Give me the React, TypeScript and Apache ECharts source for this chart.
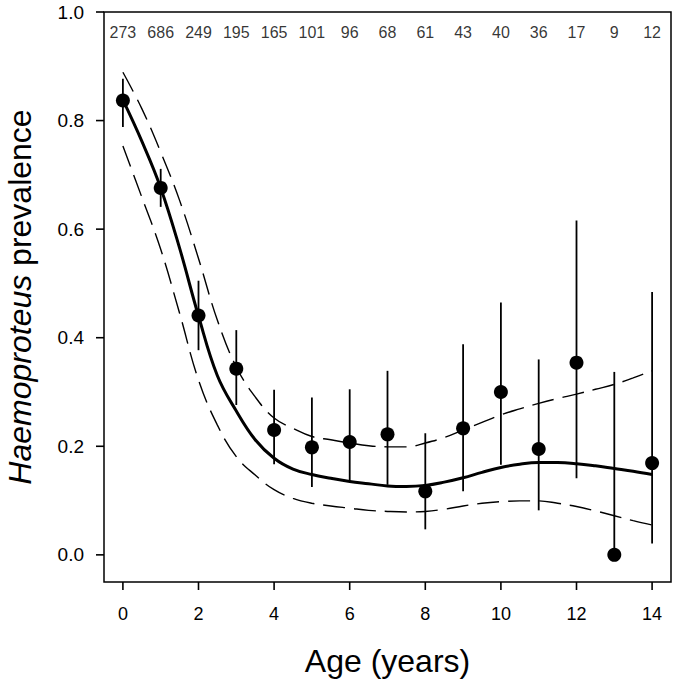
import React, { useEffect, useRef } from "react";
import * as echarts from "echarts";

const ages = [0, 1, 2, 3, 4, 5, 6, 7, 8, 9, 10, 11, 12, 13, 14];
const sampleSizes = ["273", "686", "249", "195", "165", "101", "96", "68", "61", "43", "40", "36", "17", "9", "12"];
const prevalence = [0.837, 0.676, 0.441, 0.343, 0.23, 0.198, 0.208, 0.222, 0.117, 0.233, 0.3, 0.195, 0.354, 0.0, 0.169];
const ciLow = [0.788, 0.641, 0.377, 0.276, 0.167, 0.125, 0.135, 0.129, 0.047, 0.117, 0.166, 0.082, 0.141, 0.0, 0.021];
const ciHigh = [0.877, 0.711, 0.505, 0.414, 0.304, 0.29, 0.305, 0.339, 0.224, 0.388, 0.465, 0.36, 0.616, 0.337, 0.484];

const fitAges = [0, 0.5, 1, 1.5, 2, 2.5, 3, 3.5, 4, 4.5, 5, 5.5, 6, 6.5, 7, 7.5, 8, 8.5, 9, 9.5, 10, 10.5, 11, 11.5, 12, 12.5, 13, 13.5, 14];
const fitMean = [0.838, 0.762, 0.676, 0.565, 0.44, 0.33, 0.265, 0.212, 0.178, 0.158, 0.148, 0.141, 0.135, 0.131, 0.127, 0.126, 0.128, 0.134, 0.142, 0.152, 0.161, 0.167, 0.17, 0.17, 0.168, 0.164, 0.159, 0.154, 0.148];
const fitUpper = [0.889, 0.822, 0.742, 0.653, 0.546, 0.432, 0.346, 0.291, 0.252, 0.233, 0.218, 0.212, 0.206, 0.201, 0.199, 0.199, 0.206, 0.216, 0.23, 0.244, 0.258, 0.269, 0.279, 0.288, 0.296, 0.305, 0.314, 0.326, 0.339];
const fitLower = [0.753, 0.659, 0.563, 0.445, 0.322, 0.239, 0.181, 0.147, 0.12, 0.104, 0.095, 0.09, 0.086, 0.082, 0.08, 0.079, 0.08, 0.084, 0.09, 0.095, 0.098, 0.0995, 0.0994, 0.095, 0.089, 0.081, 0.072, 0.063, 0.055];

const xTicks = [0, 2, 4, 6, 8, 10, 12, 14];
const yTicks = [0, 0.2, 0.4, 0.6, 0.8, 1.0];
const countRowY = 0.963;

const X_MIN = -0.5;
const X_MAX = 14.5;
const Y_MIN = -0.05;
const Y_MAX = 1.0;
const TICK_LEN = 8;
const TICK_W = 1.6;

const FONT = "Liberation Sans, Arial, sans-serif";

export default function App() {
  const ref = useRef<HTMLDivElement>(null);

  useEffect(() => {
    if (!ref.current) return;
    const chart = echarts.init(ref.current, undefined, { renderer: "svg" });

    const pair = (xs: number[], ys: number[]) => xs.map((x, i) => [x, ys[i]]);

    const option: any = {
      animation: false,
      backgroundColor: "#fff",
      grid: {
        left: 104,
        right: 4,
        top: 12,
        bottom: 104,
        show: true,
        borderColor: "#000",
        borderWidth: 1.5,
        backgroundColor: "transparent",
        containLabel: false,
        outerBoundsMode: "none",
      },
      xAxis: {
        type: "value",
        min: X_MIN,
        max: X_MAX,
        axisLine: { show: false, onZero: false },
        splitLine: { show: false },
        axisTick: { show: false },
        axisLabel: {
          customValues: xTicks,
          margin: 23,
          fontSize: 18,
          color: "#000",
          fontFamily: FONT,
        },
        name: "Age (years)",
        nameLocation: "middle",
        nameGap: 63,
        nameTextStyle: { fontSize: 32, color: "#000", fontFamily: FONT },
      },
      yAxis: {
        type: "value",
        min: Y_MIN,
        max: Y_MAX,
        axisLine: { show: false, onZero: false },
        splitLine: { show: false },
        axisTick: { show: false },
        axisLabel: {
          customValues: yTicks,
          margin: 20,
          fontSize: 19,
          color: "#000",
          fontFamily: FONT,
          formatter: (v: number) => v.toFixed(1),
        },
        name: "{i|Haemoproteus} prevalence",
        nameLocation: "middle",
        nameRotate: 90,
        nameGap: 68,
        nameTextStyle: {
          fontSize: 32,
          color: "#000",
          fontFamily: FONT,
          rich: {
            i: { fontSize: 32, fontStyle: "italic", color: "#000", fontFamily: FONT },
          },
        },
      },
      series: [
        {
          type: "line",
          data: pair(fitAges, fitMean),
          showSymbol: false,
          smooth: 0.4,
          lineStyle: { color: "#000", width: 3 },
          z: 2,
        },
        {
          type: "line",
          data: pair(fitAges, fitUpper),
          showSymbol: false,
          smooth: 0.4,
          lineStyle: { color: "#000", width: 1.4, type: [22, 9] },
          z: 2,
        },
        {
          type: "line",
          data: pair(fitAges, fitLower),
          showSymbol: false,
          smooth: 0.4,
          lineStyle: { color: "#000", width: 1.4, type: [22, 9] },
          z: 2,
        },
        {
          type: "custom",
          data: ages.map((a, i) => [a, ciLow[i], ciHigh[i]]),
          encode: { x: 0, y: [1, 2] },
          renderItem: (params: any, api: any) => {
            const x = api.value(0);
            const p1 = api.coord([x, api.value(1)]);
            const p2 = api.coord([x, api.value(2)]);
            return {
              type: "line",
              shape: { x1: p1[0], y1: p1[1], x2: p2[0], y2: p2[1] },
              style: { stroke: "#000", lineWidth: 1.8 },
            };
          },
          z: 3,
        },
        {
          type: "scatter",
          data: pair(ages, prevalence),
          symbol: "circle",
          symbolSize: 14,
          itemStyle: { color: "#000", opacity: 1 },
          z: 4,
        },
        {
          type: "scatter",
          data: ages.map((a) => [a, countRowY]),
          symbolSize: 0,
          itemStyle: { color: "transparent" },
          label: {
            show: true,
            position: "inside",
            formatter: (p: any) => sampleSizes[p.dataIndex],
            fontSize: 16,
            color: "#000",
            fontFamily: FONT,
          },
          z: 5,
        },
      ],
    };

    chart.setOption(option);

    // Axis ticks drawn outside the frame as thin filled rects, positioned through the chart's scales
    const tickEls: any[] = [];
    xTicks.forEach((v) => {
      const p = chart.convertToPixel({ gridIndex: 0 }, [v, Y_MIN]) as number[];
      tickEls.push({
        type: "rect",
        shape: { x: p[0] - TICK_W / 2, y: p[1], width: TICK_W, height: TICK_LEN },
        style: { fill: "#000" },
        z: 100,
        silent: true,
      });
    });
    yTicks.forEach((v) => {
      const p = chart.convertToPixel({ gridIndex: 0 }, [X_MIN, v]) as number[];
      tickEls.push({
        type: "rect",
        shape: { x: p[0] - TICK_LEN, y: p[1] - TICK_W / 2, width: TICK_LEN, height: TICK_W },
        style: { fill: "#000" },
        z: 100,
        silent: true,
      });
    });
    chart.setOption({ graphic: tickEls });

    return () => chart.dispose();
  }, []);

  return (
    <div
      ref={ref}
      style={{ position: "absolute", left: 0, top: 0, width: 675, height: 686 }}
    />
  );
}
